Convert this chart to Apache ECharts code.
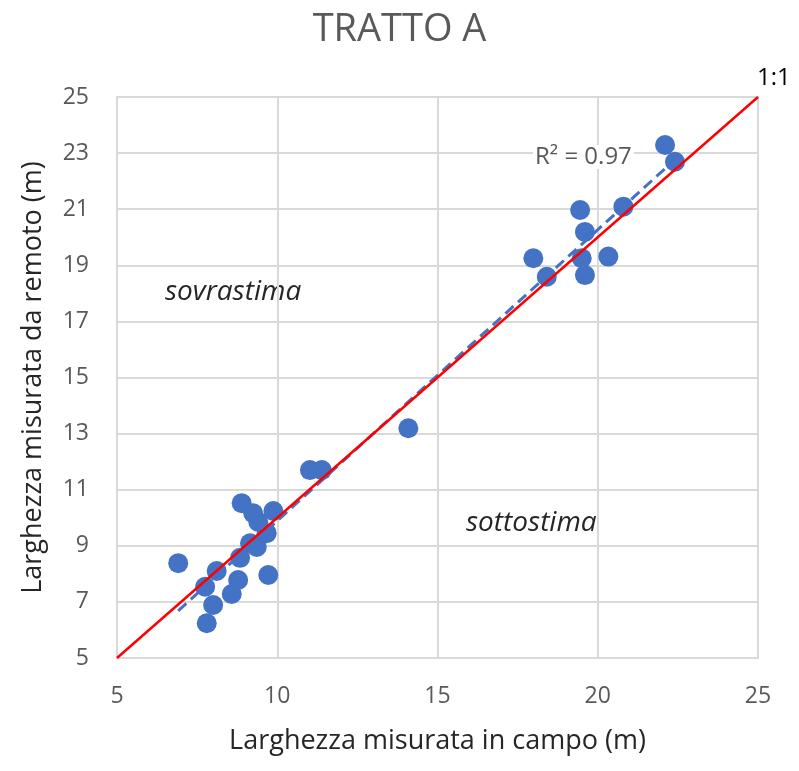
<!DOCTYPE html>
<html>
<head>
<meta charset="utf-8">
<script src="https://cdn.jsdelivr.net/npm/echarts@6/dist/echarts.min.js"></script>
<style>
html,body{margin:0;padding:0;background:#fff;}
#chart{width:799px;height:771px;}
</style>
</head>
<body>
<div id="chart"></div>
<script>
// Field-measured width (m) vs remotely-measured width (m)
const campo = [6.91, 7.80, 8.00, 7.75, 8.11, 8.58, 8.78, 8.84, 8.89, 9.25, 9.15, 9.36, 9.41, 9.67, 9.72, 9.88,
  11.02, 11.39, 14.09, 17.99, 18.41, 19.45, 19.60, 19.50, 19.60, 20.33, 20.80, 22.10, 22.41];
const remoto = [8.38, 6.24, 6.89, 7.54, 8.10, 7.28, 7.78, 8.57, 10.52, 10.16, 9.09, 8.96, 9.85, 9.45, 7.96, 10.24,
  11.70, 11.70, 13.19, 19.25, 18.59, 20.97, 20.19, 19.25, 18.65, 19.31, 21.09, 23.29, 22.69];
const lineaUno = [5, 25];
const axisMin = 5, axisMax = 25;
const yTicks = [5, 7, 9, 11, 13, 15, 17, 19, 21, 23, 25];
const r2Text = 'R² = 0.97';

// least-squares fit for the trend line
const n = campo.length;
const mx = campo.reduce((a, b) => a + b, 0) / n;
const my = remoto.reduce((a, b) => a + b, 0) / n;
let sxy = 0, sxx = 0;
for (let i = 0; i < n; i++) { sxy += (campo[i] - mx) * (remoto[i] - my); sxx += (campo[i] - mx) ** 2; }
const slope = sxy / sxx, icpt = my - slope * mx;
const xLo = Math.min(...campo), xHi = Math.max(...campo);
const trend = [[xLo, icpt + slope * xLo], [xHi, icpt + slope * xHi]];

const font = '"Open Sans", "Liberation Sans", sans-serif';
const chart = echarts.init(document.getElementById('chart'));
chart.setOption({
  animation: false,
  backgroundColor: '#fff',
  title: {
    text: 'TRATTO A', left: 'center', top: 6,
    textStyle: { fontFamily: font, fontSize: 38, fontWeight: 'normal', color: '#595959' }
  },
  grid: { left: 117, right: 41, top: 97, bottom: 113, containLabel: false },
  xAxis: {
    type: 'value', min: axisMin, max: axisMax, interval: 5,
    name: 'Larghezza misurata in campo (m)', nameLocation: 'middle', nameGap: 70,
    nameTextStyle: { fontFamily: font, fontSize: 27, color: '#262626' },
    axisLine: { show: true, lineStyle: { color: '#d9d9d9', width: 2 } },
    axisTick: { show: false },
    axisLabel: { fontFamily: font, fontSize: 23, color: '#595959', margin: 27 },
    splitLine: { show: true, lineStyle: { color: '#d9d9d9', width: 2 } }
  },
  yAxis: {
    type: 'value', min: axisMin, max: axisMax, interval: 2,
    name: 'Larghezza misurata da remoto (m)', nameLocation: 'middle', nameGap: 70,
    nameTextStyle: { fontFamily: font, fontSize: 27, color: '#262626' },
    axisLine: { show: true, lineStyle: { color: '#d9d9d9', width: 2 } },
    axisTick: { show: false },
    axisLabel: { fontFamily: font, fontSize: 23, color: '#595959', margin: 28,
      formatter: v => yTicks.includes(v) ? String(v) : '' },
    splitLine: { show: true, lineStyle: { color: '#d9d9d9', width: 2 } }
  },
  graphic: [
    { type: 'rect', shape: { x: 117, y: 97, width: 641, height: 561 }, style: { fill: 'none', stroke: '#d9d9d9', lineWidth: 2 }, silent: true, z: 0 },
    { type: 'text', left: 165, top: 278, style: { text: 'sovrastima', fontFamily: font, fontStyle: 'italic', fontSize: 28, fill: '#262626' } },
    { type: 'text', left: 466, top: 509, style: { text: 'sottostima', fontFamily: font, fontStyle: 'italic', fontSize: 28, fill: '#262626' } },
    { type: 'text', left: 757, top: 66, style: { text: '1:1', fontFamily: font, fontSize: 24, fill: '#000' } },
    { type: 'text', left: 533, top: 145, z: 10, style: { text: r2Text, fontFamily: font, fontSize: 24, fill: '#595959', backgroundColor: '#fff', padding: [0, 2] } }
  ],
  series: [
    {
      type: 'scatter', data: campo.map((x, i) => [x, remoto[i]]),
      symbolSize: 20, itemStyle: { color: '#4472C4', opacity: 1 }, z: 2
    },
    {
      type: 'line', data: trend, symbol: 'none',
      lineStyle: { color: '#4472C4', width: 3, type: [11, 6] }, z: 3
    },
    {
      type: 'line', data: lineaUno.map(v => [v, v]), symbol: 'none',
      lineStyle: { color: '#ff0000', width: 2.5 }, z: 4
    }
  ]
});
</script>
</body>
</html>
